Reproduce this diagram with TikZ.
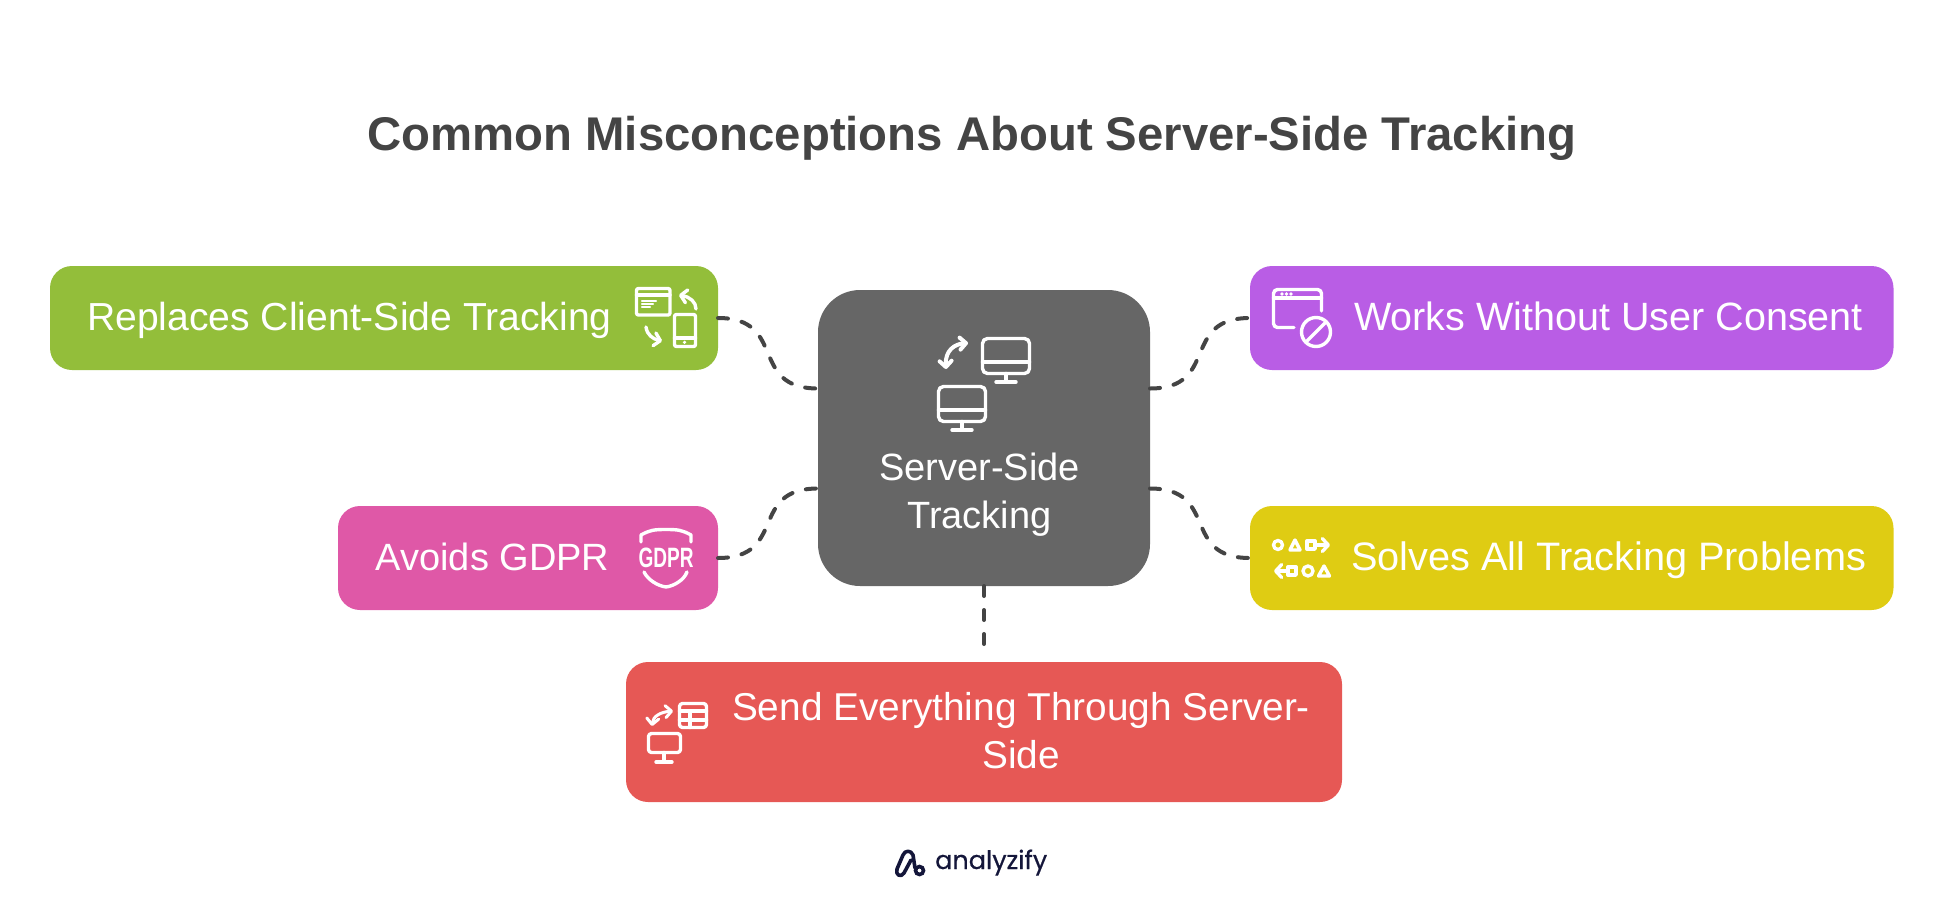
\documentclass[tikz,border=0pt]{standalone}
\usepackage{fontspec}
\setmainfont{Liberation Sans}
\newfontfamily\logofont[FakeBold=0.5]{Poppins}
\usetikzlibrary{arrows.meta}
\definecolor{greenbox}{HTML}{93BE3A}
\definecolor{pinkbox}{HTML}{DF58A7}
\definecolor{purplebox}{HTML}{B95DE5}
\definecolor{yellowbox}{HTML}{DFCC13}
\definecolor{redbox}{HTML}{E65855}
\definecolor{serverbox}{HTML}{666666}
\definecolor{inkgrey}{HTML}{444444}
\definecolor{logonavy}{HTML}{14163A}
\tikzset{
        sidebox/.style={rectangle, anchor=north west, inner sep=0pt, outer sep=0pt, rounded corners=22pt, minimum height=104pt},
        boxtext/.style={text=white, inner sep=0pt, anchor=base west, align=center, font=\fontsize{38}{48}\selectfont},
        link/.style={draw=inkgrey, line width=4pt, line cap=round, dash pattern=on 10pt off 14pt},
        iconline/.style={draw=white, line width=3.4pt, line cap=round, line join=round},
        iconbar/.style={draw=white, line width=2.4pt, line cap=round},
        iconarrow/.style={iconline, -{Straight Barb[round, length=6pt, width=13pt]}},
        iconboth/.style={iconline, {Straight Barb[round, length=6pt, width=12pt]}-{Straight Barb[round, length=6pt, width=12pt]}},
        monitor/.pic={
          \draw[iconline, rounded corners=5pt] (1.5,1.5) rectangle (48.5,36.5);
          \draw[iconline] (1.5,25) -- (48.5,25);
          \draw[iconline] (25,36.5) -- (25,44);
          \draw[iconline] (15,45) -- (35,45);
        },
        deviceicon/.pic={
          \draw[iconline, rounded corners=2pt] (1.5,1.5) rectangle (35,28);
          \draw[iconline] (1.5,8) -- (35,8);
          \draw[iconbar] (7,14) -- (21,14);
          \draw[iconbar] (7,17) -- (18,17);
          \draw[iconbar] (7,20) -- (15,20);
          \draw[iconline, rounded corners=2pt] (39.5,27.5) rectangle (60.5,59.5);
          \draw[iconline] (39.5,51) -- (60.5,51);
          \fill[white] (49.5,55.3) circle (1.8);
          \draw[iconarrow] (61,22) .. controls (61,15) and (55,10) .. (44,8);
          \draw[iconarrow] (11,40) .. controls (12,48) and (18,52) .. (27,54);
        },
        shieldicon/.pic={
          \draw[iconline] (3,14) -- (3,7) .. controls (12,2) and (16,1.5) .. (28,1.5) .. controls (40,1.5) and (44,2) .. (53,7) -- (53,14);
          \node[text=white, inner sep=0pt, font=\bfseries\fontsize{28}{28}\selectfont] (gdprmark) at (28,30) {\scalebox{0.68}[1]{GDPR}};
          \draw[iconline] (6,44) .. controls (10,52) and (20,58) .. (28,59) .. controls (36,58) and (46,52) .. (49,44);
        },
        blockedicon/.pic={
          \draw[iconline, rounded corners=4pt] (22,39.5) -- (1.5,39.5) -- (1.5,1.5) -- (49.5,1.5) -- (49.5,23);
          \draw[iconline] (1.5,10) -- (49.5,10);
          \foreach \dotx in {10,14.5,19}
            \fill[white] (\dotx,6) circle (1.8);
          \draw[iconline] (44,44) circle (14.5);
          \draw[iconline] (34,54) -- (54,34);
        },
        shapesicon/.pic={
          \draw[iconline] (5,7) circle (4.5);
          \draw[iconline] (17,12) -- (27,12) -- (22,2) -- cycle;
          \draw[iconline] (34,3) rectangle (42,11);
          \draw[iconarrow] (42,7) -- (57,7);
          \draw[iconarrow] (14,33) -- (1,33);
          \draw[iconline] (15,29) rectangle (23,37);
          \draw[iconline] (35,33) circle (5);
          \draw[iconline] (45.5,38) -- (56.5,38) -- (51,28) -- cycle;
        },
        tableicon/.pic={
          \draw[iconline, rounded corners=3pt] (32.5,1.5) rectangle (59.5,25.5);
          \draw[iconline] (32.5,9) -- (59.5,9);
          \draw[iconline] (32.5,18) -- (59.5,18);
          \draw[iconline] (43,9) -- (43,25.5);
          \draw[iconline, rounded corners=3pt] (1.5,31.5) rectangle (33.5,50.5);
          \draw[iconline] (17,50.5) -- (17,59);
          \draw[iconline] (9,60) -- (25,60);
          \draw[iconboth, line width=3pt] (5,24) .. controls (6,14) and (14,10) .. (26,9);
        }
}
\begin{document}
\begin{tikzpicture}[x=1pt, y=-1pt]
  \useasboundingbox (0,0) rectangle (1944,900);
  \node[inner sep=0pt, text=inkgrey, font=\bfseries\fontsize{47.3}{47.3}\selectfont, anchor=base] (title) at (972,150) {Common Misconceptions About Server-Side Tracking};

  % centre box
  \node[rectangle, anchor=north west, inner sep=0pt, outer sep=0pt, rounded corners=42pt, minimum width=332pt, minimum height=296pt, fill=serverbox] (server) at (818,290) {};
  \pic at (981,337) {monitor};
  \pic at (937,385) {monitor};
  \draw[iconboth, line width=4pt] (946,369) .. controls (945,350) and (955,344) .. (968,343);
  \node[boxtext, anchor=base] (servertext) at (979.5,528) {Server-Side\\Tracking};

  % outer boxes
  \node[sidebox, minimum width=668pt, fill=greenbox] (client) at (50,266) {};
  \node[sidebox, minimum width=380pt, fill=pinkbox] (gdpr) at (338,506) {};
  \node[sidebox, minimum width=643.5pt, fill=purplebox] (consent) at (1250,266) {};
  \node[sidebox, minimum width=643.5pt, fill=yellowbox] (problems) at (1250,506) {};
  \node[sidebox, minimum width=716pt, minimum height=140pt, fill=redbox] (everything) at (626,662) {};

  \node[boxtext, font=\fontsize{39.1}{48}\selectfont] (clienttext) at (87,330) {Replaces Client-Side Tracking};
  \node[boxtext] (gdprtext) at (375.5,570) {Avoids GDPR};
  \node[boxtext, font=\fontsize{39.5}{48}\selectfont] (consenttext) at (1354,330) {Works Without User Consent};
  \node[boxtext, font=\fontsize{39.7}{48}\selectfont] (problemstext) at (1351,570) {Solves All Tracking Problems};
  \node[boxtext, anchor=base, font=\fontsize{38.8}{48}\selectfont] (everythingtext) at (1021,768) {Send Everything Through Server-\\Side};

  \pic at (635,287) {deviceicon};
  \pic at (638,528) {shieldicon};
  \pic at (1272,288) {blockedicon};
  \pic at (1273,538) {shapesicon};
  \pic at (647,702) {tableicon};

  % connectors
  \draw[link] (client.east) .. controls +(70,0) and +(-70,0) .. ([yshift=49.5pt]server.west);
  \draw[link] (gdpr.east) .. controls +(70,0) and +(-70,0) .. ([yshift=-50.5pt]server.west);
  \draw[link] ([yshift=49.5pt]server.east) .. controls +(70,0) and +(-70,0) .. (consent.west);
  \draw[link] ([yshift=-50.5pt]server.east) .. controls +(70,0) and +(-70,0) .. (problems.west);
  \draw[link] (server.south -| 984,0) -- ([yshift=14pt]everything.north -| 984,0);

  % logo
  \node[inner sep=0pt, anchor=base west, text=logonavy, font=\logofont\fontsize{25.5}{25.5}\selectfont] (logotext) at (935,869) {analyzify};
  \draw[draw=logonavy, line width=3.6pt, line join=round, line cap=round] (915,868) -- (913,855) .. controls (911,850) and (905,850) .. (903,855) -- (897,869) .. controls (895,875) and (901,878) .. (904,873) -- (911,860);
  \draw[draw=logonavy, line width=3.6pt] (919.5,870.5) circle (4);
\end{tikzpicture}
\end{document}
